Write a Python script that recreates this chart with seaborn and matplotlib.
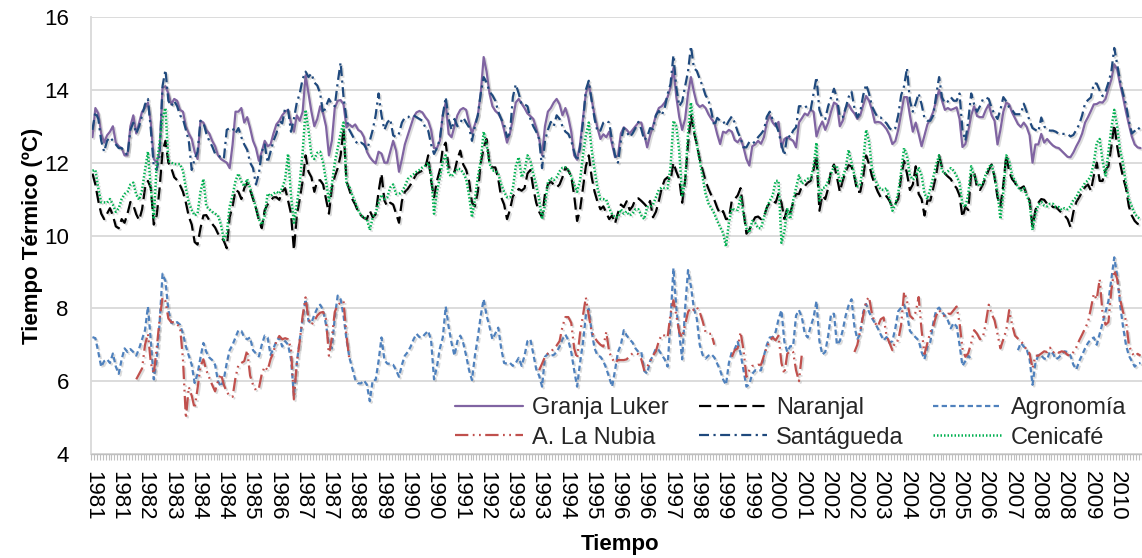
import numpy as np
import pandas as pd
import matplotlib
matplotlib.use("Agg")
import matplotlib.pyplot as plt
import matplotlib.patheffects as pe
from matplotlib.lines import Line2D
import seaborn as sns

nan = np.nan

# Monthly thermal time (ºC), January 1981 - December 2010, one row per year
granja_luker = [
    12.7, 13.5, 13.35, 12.8, 12.55, 12.75, 12.85, 13.0, 12.55, 12.45, 12.4, 12.2,     # 1981
    12.2, 13.0, 13.3, 12.8, 13.1, 13.4, 13.5, 13.65, 13.1, 12.1, 12.0, 12.3,          # 1982
    14.05, 14.1, 13.9, 13.6, 13.75, 13.7, 13.45, 13.4, 13.0, 12.8, 12.65, 12.3,       # 1983
    12.1, 13.15, 13.1, 12.9, 12.8, 12.6, 12.45, 12.2, 12.1, 12.05, 12.0, 11.85,       # 1984
    12.5, 13.4, 13.4, 13.5, 13.1, 13.25, 12.95, 12.6, 12.4, 12.05, 12.3, 12.6,        # 1985
    12.45, 12.5, 12.8, 13.05, 13.15, 13.3, 13.4, 13.45, 13.1, 12.85, 13.3, 13.15,     # 1986
    13.4, 14.4, 13.9, 13.4, 13.0, 13.2, 13.55, 13.35, 13.0, 12.2, 12.6, 13.5,         # 1987
    13.7, 13.72, 13.6, 12.97, 13.05, 12.98, 13.05, 12.9, 12.85, 12.7, 12.3, 12.15,    # 1988
    12.05, 11.98, 12.3, 12.25, 12.0, 12.0, 12.3, 12.6, 12.33, 11.75, 12.1, 12.5,      # 1989
    12.75, 13.0, 13.25, 13.38, 13.42, 13.38, 13.25, 13.15, 12.9, 12.4, 12.4, 12.6,    # 1990
    13.3, 13.65, 12.79, 12.7, 13.0, 13.3, 13.45, 13.5, 13.45, 13.1, 12.8, 13.05,      # 1991
    13.3, 13.9, 14.9, 14.5, 13.9, 13.55, 13.42, 13.35, 13.2, 12.9, 12.55, 12.8,       # 1992
    13.2, 13.65, 13.75, 13.62, 13.5, 13.35, 13.28, 13.2, 12.95, 12.65, 12.2, 13.0,    # 1993
    13.4, 13.5, 13.65, 13.75, 13.6, 13.3, 13.5, 13.24, 12.85, 12.2, 12.08, 12.5,      # 1994
    13.2, 13.9, 14.15, 13.72, 13.3, 12.95, 12.65, 12.78, 12.7, 12.85, 12.5, 12.15,    # 1995
    12.2, 12.8, 12.97, 12.9, 12.8, 12.9, 13.0, 13.1, 13.1, 12.78, 12.42, 12.75,       # 1996
    13.0, 13.3, 13.5, 13.55, 13.65, 13.8, 14.06, 14.6, 13.8, 13.25, 12.9, 13.2,       # 1997
    13.9, 14.35, 13.95, 13.62, 13.53, 13.58, 13.5, 13.33, 13.2, 13.1, 12.78, 12.51,   # 1998
    12.85, 12.82, 12.9, 12.85, 12.62, 12.56, 12.67, 12.42, 12.1, 11.92, 12.45, 12.5,  # 1999
    12.6, 12.52, 12.7, 13.1, 13.3, 13.1, 13.0, 13.12, 12.42, 12.65, 12.7, 12.65,      # 2000
    12.6, 12.42, 13.1, 13.22, 13.35, 13.3, 13.45, 13.4, 12.72, 12.97, 13.13, 12.9,    # 2001
    13.1, 13.4, 13.65, 13.6, 13.0, 13.15, 13.5, 13.6, 13.45, 13.35, 13.2, 13.3,       # 2002
    13.58, 13.83, 13.7, 13.45, 13.1, 13.12, 13.1, 13.02, 12.92, 12.76, 12.51, 12.59,  # 2003
    12.9, 13.35, 13.8, 13.8, 13.3, 12.85, 13.1, 12.79, 12.45, 12.75, 13.05, 13.2,     # 2004
    13.4, 13.7, 14.0, 13.7, 13.45, 13.5, 13.45, 13.48, 13.52, 13.2, 12.43, 12.51,     # 2005
    12.87, 13.3, 13.55, 13.28, 13.25, 13.25, 13.45, 13.6, 13.3, 13.15, 12.5, 12.9,    # 2006
    13.4, 13.65, 13.6, 13.38, 13.22, 13.06, 12.98, 13.1, 12.98, 12.75, 12.0, 12.5,    # 2007
    12.5, 12.79, 12.55, 12.65, 12.55, 12.47, 12.42, 12.4, 12.32, 12.24, 12.16, 12.15, # 2008
    12.28, 12.45, 12.6, 12.8, 13.1, 13.25, 13.42, 13.6, 13.61, 13.66, 13.65, 13.75,   # 2009
    14.03, 14.28, 14.7, 14.55, 14.15, 13.8, 13.4, 13.05, 12.72, 12.5, 12.42, 12.4,    # 2010
]

santagueda = [
    12.9, 13.4, 13.2, 12.6, 12.3, 12.6, 12.7, 12.6, 12.5, 12.4, 12.4, 12.3,           # 1981
    12.2, 12.9, 13.1, 12.8, 13.0, 13.3, 13.6, 13.75, 12.9, 11.9, 11.8, 12.2,          # 1982
    14.1, 14.55, 13.7, 13.55, 13.7, 13.55, 13.3, 13.2, 12.9, 12.6, 11.8, 12.1,        # 1983
    12.3, 13.15, 13.1, 12.8, 12.6, 12.45, 12.25, 12.2, 12.15, 12.1, 12.9, 12.95,      # 1984
    12.95, 12.8, 12.95, 12.7, 12.5, 12.35, 12.0, 11.85, 11.4, 11.7, 12.3, 12.5,       # 1985
    12.0, 12.3, 12.6, 12.8, 13.15, 13.08, 13.5, 13.45, 12.85, 13.2, 13.65, 13.9,      # 1986
    14.3, 14.5, 14.35, 14.45, 14.2, 14.12, 13.9, 13.35, 13.55, 13.75, 13.6, 13.55,    # 1987
    14.2, 14.75, 13.8, 13.2, 12.9, 12.75, 12.6, 12.5, 12.55, 12.5, 12.35, 12.6,       # 1988
    12.9, 13.3, 13.9, 13.3, 12.9, 13.1, 13.2, 12.75, 12.7, 12.8, 13.1, 13.24,         # 1989
    13.24, 13.3, 13.3, 13.25, 13.2, 13.15, 12.97, 12.88, 12.5, 12.24, 12.4, 12.65,    # 1990
    13.3, 13.8, 13.2, 12.9, 13.2, 13.0, 13.1, 13.24, 13.1, 12.97, 12.6, 13.0,         # 1991
    13.3, 13.9, 14.35, 14.2, 13.95, 13.85, 13.7, 13.4, 13.2, 13.05, 12.7, 12.8,       # 1992
    13.8, 14.15, 13.9, 13.6, 13.6, 13.55, 13.2, 13.0, 12.85, 12.65, 11.85, 12.6,      # 1993
    12.9, 13.12, 13.0, 13.3, 13.2, 13.0, 12.85, 12.79, 12.6, 12.3, 12.05, 12.4,       # 1994
    13.1, 14.0, 14.25, 13.7, 13.2, 12.85, 12.88, 13.1, 13.15, 13.1, 12.6, 12.2,       # 1995
    12.0, 12.6, 12.95, 12.85, 12.7, 12.8, 12.95, 13.12, 12.92, 12.62, 12.7, 12.95,    # 1996
    12.92, 13.3, 13.42, 13.3, 13.5, 13.88, 14.16, 14.95, 14.05, 13.55, 13.68, 14.1,   # 1997
    14.5, 15.2, 14.6, 14.52, 14.3, 14.1, 13.85, 13.72, 13.4, 13.0, 13.23, 13.15,      # 1998
    13.15, 13.0, 13.15, 13.27, 13.1, 12.85, 12.67, 12.42, 12.42, 12.57, 12.52, 12.58, # 1999
    12.7, 12.79, 12.9, 13.26, 13.4, 13.18, 13.08, 12.85, 12.5, 12.2, 12.77, 12.7,     # 2000
    12.88, 12.97, 13.55, 13.55, 13.58, 13.47, 13.45, 13.9, 14.35, 13.45, 13.22, 13.2, # 2001
    13.55, 13.79, 14.03, 13.78, 13.25, 13.25, 13.5, 13.8, 13.95, 13.5, 13.24, 13.4,   # 2002
    13.85, 14.15, 13.9, 13.55, 13.38, 13.24, 13.24, 13.15, 13.08, 12.95, 12.88, 12.95,# 2003
    13.3, 13.85, 14.1, 14.6, 13.7, 13.4, 13.63, 13.9, 13.6, 13.22, 13.15, 13.15,      # 2004
    13.3, 13.85, 14.35, 13.79, 13.63, 13.68, 13.8, 13.7, 13.7, 13.9, 12.9, 12.6,      # 2005
    13.15, 13.9, 13.6, 13.4, 13.55, 13.74, 13.79, 13.75, 13.5, 13.33, 13.2, 13.45,    # 2006
    13.8, 13.68, 13.52, 13.45, 13.33, 13.33, 13.33, 13.62, 13.4, 13.15, 12.95, 12.9,  # 2007
    12.85, 13.24, 13.0, 12.9, 12.88, 12.88, 12.85, 12.79, 12.79, 12.79, 12.79, 12.72, # 2008
    12.76, 12.9, 13.05, 13.3, 13.63, 13.72, 13.79, 14.18, 14.17, 13.98, 13.83, 13.95, # 2009
    14.2, 14.5, 15.15, 14.7, 14.25, 13.9, 13.6, 13.15, 12.8, 12.87, 12.97, 12.9,      # 2010
]

naranjal = [
    11.7, 11.4, 10.95, 10.6, 10.45, 10.6, 10.75, 10.55, 10.25, 10.2, 10.45, 10.35,    # 1981
    10.6, 10.92, 10.83, 10.58, 10.42, 10.72, 11.3, 11.5, 11.3, 10.3, 10.55, 11.3,     # 1982
    12.3, 12.6, 12.0, 11.85, 11.6, 11.52, 11.38, 11.2, 10.9, 10.52, 10.3, 9.82,       # 1983
    9.75, 10.2, 10.55, 10.56, 10.42, 10.32, 10.22, 10.05, 9.98, 9.85, 9.65, 10.5,     # 1984
    10.8, 11.25, 11.2, 11.0, 11.3, 11.45, 11.25, 11.0, 10.75, 10.42, 10.2, 10.7,      # 1985
    10.85, 10.95, 11.05, 11.05, 10.98, 11.2, 11.3, 10.96, 10.6, 9.6, 10.55, 11.0,     # 1986
    11.5, 12.2, 11.75, 11.6, 11.2, 11.5, 11.52, 11.4, 11.0, 10.6, 11.3, 11.62,        # 1987
    11.85, 12.2, 12.95, 11.5, 11.25, 11.0, 10.85, 10.65, 10.55, 10.48, 10.45, 10.68,  # 1988
    10.5, 10.58, 11.2, 11.7, 10.96, 10.8, 10.9, 10.85, 10.6, 10.35, 10.95, 11.2,      # 1989
    11.28, 11.4, 11.55, 11.69, 11.74, 11.78, 11.85, 12.2, 11.5, 11.05, 11.5, 11.8,    # 1990
    12.4, 12.55, 11.87, 11.87, 11.75, 12.1, 12.33, 11.95, 11.8, 11.5, 10.9, 10.8,     # 1991
    11.2, 11.98, 12.4, 12.65, 11.98, 11.87, 11.87, 11.55, 11.05, 10.85, 10.45, 10.7,  # 1992
    11.08, 11.16, 11.28, 11.23, 11.3, 11.7, 11.8, 11.3, 10.9, 10.65, 10.5, 11.14,     # 1993
    11.4, 11.48, 11.4, 11.32, 11.4, 11.6, 11.87, 11.78, 11.62, 11.1, 10.4, 10.7,      # 1994
    11.3, 11.9, 12.2, 11.6, 11.2, 10.92, 10.72, 10.8, 10.62, 10.45, 10.55, 10.33,     # 1995
    10.62, 10.85, 10.78, 10.94, 10.7, 10.8, 11.0, 11.02, 10.95, 10.87, 10.78, 10.95,  # 1996
    10.5, 10.65, 10.95, 11.3, 11.53, 11.6, 11.51, 12.0, 11.75, 11.55, 10.9, 11.5,     # 1997
    12.5, 13.3, 12.85, 12.5, 12.1, 11.8, 11.5, 11.28, 11.1, 10.98, 10.76, 10.59,      # 1998
    10.67, 10.45, 10.47, 10.96, 11.0, 11.1, 11.3, 10.68, 10.05, 10.16, 10.35, 10.5,   # 1999
    10.52, 10.45, 10.52, 10.77, 10.9, 10.95, 10.9, 11.15, 10.9, 10.45, 10.75, 10.62,  # 2000
    10.9, 11.14, 11.14, 11.35, 11.36, 11.45, 11.5, 11.8, 12.2, 10.68, 11.1, 11.0,     # 2001
    11.3, 11.8, 11.95, 11.6, 11.2, 11.51, 11.75, 11.93, 11.9, 11.6, 11.2, 11.2,       # 2002
    11.6, 12.2, 11.96, 11.63, 11.4, 11.2, 11.05, 11.03, 11.08, 10.95, 10.78, 10.87,   # 2003
    11.0, 11.6, 12.05, 11.7, 11.25, 11.4, 11.9, 11.14, 11.0, 10.55, 10.96, 10.96,     # 2004
    11.3, 11.65, 12.2, 11.87, 11.7, 11.62, 11.55, 11.4, 11.3, 11.1, 10.5, 10.78,      # 2005
    10.7, 11.7, 11.75, 11.3, 11.25, 11.4, 11.6, 11.8, 11.95, 11.6, 11.05, 10.8,       # 2006
    11.4, 12.2, 11.75, 11.55, 11.45, 11.28, 11.3, 11.35, 11.12, 10.96, 10.25, 10.7,   # 2007
    10.9, 11.0, 10.98, 10.87, 10.86, 10.78, 10.78, 10.7, 10.62, 10.55, 10.45, 10.23,  # 2008
    10.65, 10.92, 11.05, 11.2, 11.33, 11.4, 11.23, 11.65, 12.0, 11.5, 11.5, 11.8,     # 2009
    11.9, 12.45, 13.05, 12.45, 11.98, 11.6, 11.3, 10.8, 10.55, 10.4, 10.32, 10.3,     # 2010
]

cenicafe = [
    11.78, 11.8, 11.3, 10.91, 10.91, 10.9, 11.0, 10.85, 10.65, 10.75, 11.0, 11.14,    # 1981
    11.2, 11.4, 11.45, 11.12, 10.98, 11.25, 11.8, 12.3, 11.3, 10.45, 11.95, 12.55,    # 1982
    13.24, 13.5, 12.05, 12.0, 11.96, 11.96, 11.96, 11.78, 11.3, 10.9, 10.7, 10.55,    # 1983
    10.6, 11.2, 11.55, 10.8, 10.72, 10.65, 10.6, 10.55, 10.3, 9.88, 10.05, 10.8,      # 1984
    11.1, 11.5, 11.7, 11.48, 11.35, 11.55, 11.3, 11.05, 10.75, 10.45, 10.3, 10.55,    # 1985
    11.15, 11.08, 11.15, 11.2, 11.15, 11.3, 11.55, 12.24, 11.1, 10.35, 10.85, 11.45,  # 1986
    12.3, 13.45, 12.9, 12.2, 12.1, 12.27, 12.3, 12.0, 11.5, 10.95, 11.4, 12.0,        # 1987
    12.4, 12.8, 13.1, 11.4, 11.35, 11.1, 10.92, 10.7, 10.55, 10.5, 10.45, 10.15,      # 1988
    10.5, 10.62, 10.9, 11.12, 11.0, 11.05, 11.32, 11.4, 11.14, 11.14, 11.2, 11.35,    # 1989
    11.55, 11.62, 11.68, 11.75, 11.8, 11.87, 11.92, 12.0, 11.69, 10.6, 11.2, 11.6,    # 1990
    12.05, 12.2, 11.69, 11.62, 11.72, 11.84, 11.82, 11.72, 11.55, 11.1, 10.5, 11.0,   # 1991
    11.6, 12.05, 12.85, 12.5, 11.98, 11.78, 11.78, 11.7, 11.4, 11.2, 11.05, 11.05,    # 1992
    11.3, 11.9, 12.15, 11.6, 11.78, 12.2, 12.05, 11.69, 11.38, 11.0, 10.45, 10.85,    # 1993
    11.45, 11.58, 11.52, 11.6, 11.76, 11.86, 11.87, 11.8, 11.62, 11.4, 11.2, 11.51,   # 1994
    12.2, 12.75, 13.1, 12.35, 11.8, 11.3, 11.0, 11.0, 10.98, 10.75, 10.58, 10.5,      # 1995
    10.5, 10.72, 10.6, 10.66, 10.55, 10.6, 10.72, 10.72, 10.55, 10.45, 10.78, 10.78,  # 1996
    10.85, 11.05, 11.25, 11.32, 11.3, 11.3, 11.87, 13.15, 13.0, 12.3, 11.1, 11.5,     # 1997
    12.8, 13.65, 12.95, 12.5, 12.05, 11.6, 11.15, 10.88, 10.75, 10.6, 10.4, 10.23,    # 1998
    10.07, 9.7, 10.35, 10.75, 10.7, 10.7, 11.05, 10.59, 10.2, 10.08, 10.4, 10.34,     # 1999
    10.2, 10.2, 10.5, 10.78, 10.95, 11.1, 11.5, 11.5, 9.8, 10.1, 10.75, 10.45,        # 2000
    10.96, 11.3, 11.65, 11.42, 11.5, 11.56, 11.55, 11.9, 12.55, 10.96, 11.3, 11.32,   # 2001
    11.5, 11.7, 11.9, 11.9, 11.45, 11.6, 11.85, 12.35, 12.0, 11.65, 11.35, 11.4,      # 2002
    12.0, 12.9, 12.6, 11.85, 11.55, 11.38, 11.26, 11.25, 11.3, 11.02, 10.68, 10.86,   # 2003
    11.17, 11.75, 12.4, 12.2, 11.65, 11.53, 11.6, 11.87, 11.65, 11.15, 11.0, 11.3,    # 2004
    11.6, 11.95, 12.2, 11.78, 11.7, 11.76, 11.85, 11.78, 11.63, 11.45, 10.86, 10.78,  # 2005
    11.14, 11.9, 11.65, 11.45, 11.35, 11.45, 11.68, 11.88, 11.95, 11.6, 11.2, 10.45,  # 2006
    11.2, 12.2, 12.05, 11.65, 11.5, 11.32, 11.24, 11.3, 11.1, 10.9, 10.15, 10.6,      # 2007
    10.85, 10.92, 10.82, 10.8, 10.87, 10.87, 10.78, 10.78, 10.7, 10.75, 10.72, 10.8,  # 2008
    10.98, 11.05, 11.23, 11.3, 11.45, 11.51, 11.65, 12.0, 12.55, 12.65, 12.05, 11.62, # 2009
    12.3, 12.95, 13.45, 13.0, 12.35, 11.98, 11.42, 11.0, 10.8, 10.6, 10.5, 10.45,     # 2010
]

agronomia = [
    7.21, 7.18, 6.8, 6.39, 6.55, 6.6, 6.5, 6.76, 6.4, 6.2, 6.6, 6.9,                  # 1981
    6.8, 6.88, 6.8, 6.7, 6.9, 7.15, 7.4, 8.05, 7.1, 6.05, 6.6, 7.6,                   # 1982
    8.95, 8.75, 7.95, 7.6, 7.58, 7.62, 7.55, 7.3, 6.95, 6.7, 6.45, 5.95,              # 1983
    6.2, 6.65, 7.05, 6.8, 6.65, 6.58, 6.45, 6.0, 5.85, 6.05, 6.5, 6.85,               # 1984
    7.0, 7.2, 7.4, 7.38, 7.2, 7.15, 7.2, 6.85, 6.76, 6.68, 7.0, 7.25,                 # 1985
    7.2, 6.72, 6.9, 7.1, 7.2, 6.95, 7.1, 7.0, 6.6, 5.6, 6.5, 7.15,                    # 1986
    7.7, 8.25, 7.65, 7.6, 7.82, 8.0, 8.1, 7.95, 7.55, 7.0, 6.9, 7.75,                 # 1987
    8.35, 8.25, 7.8, 7.15, 6.65, 6.35, 6.05, 5.94, 5.94, 6.02, 5.9, 5.45,             # 1988
    6.03, 6.03, 6.55, 7.2, 6.58, 6.48, 6.48, 6.45, 6.3, 6.12, 6.45, 6.7,              # 1989
    6.8, 6.95, 7.15, 7.3, 7.21, 7.21, 7.3, 7.38, 7.12, 6.05, 6.4, 6.9,                # 1990
    7.2, 8.05, 7.49, 7.05, 6.7, 7.1, 7.25, 7.05, 6.7, 6.3, 6.03, 6.7,                 # 1991
    7.2, 7.8, 8.25, 7.8, 7.5, 7.15, 7.31, 7.47, 6.9, 6.5, 6.48, 6.5,                  # 1992
    6.42, 6.5, 6.64, 6.42, 6.7, 7.1, 7.15, 6.75, 6.33, 6.15, 5.85, 6.67,              # 1993
    6.75, 6.7, 6.72, 6.8, 6.95, 7.15, 7.28, 7.12, 6.8, 6.3, 5.85, 6.5,                # 1994
    7.05, 7.8, 7.99, 7.35, 6.9, 6.7, 6.67, 6.55, 6.35, 6.1, 5.85, 6.3,                # 1995
    6.8, 7.0, 7.4, 7.25, 7.15, 7.06, 6.9, 6.8, 6.8, 6.28, 6.21, 6.55,                 # 1996
    6.7, 6.9, 6.85, 6.72, 6.6, 6.4, 7.67, 9.1, 8.0, 7.3, 6.6, 8.0,                    # 1997
    9.05, 8.6, 8.0, 7.72, 7.0, 6.72, 6.62, 6.7, 6.74, 6.65, 6.48, 6.3,                # 1998
    6.05, 5.9, 6.5, 6.8, 6.88, 7.08, 6.76, 6.3, 5.85, 5.92, 6.2, 6.3,                 # 1999
    6.28, 6.3, 6.7, 7.0, 7.2, 7.21, 7.35, 7.7, 7.95, 7.08, 6.8, 6.96,                 # 2000
    6.96, 7.8, 7.95, 7.75, 7.3, 7.2, 7.5, 7.75, 8.2, 7.1, 6.73, 6.8,                  # 2001
    7.25, 7.85, 7.85, 7.0, 7.1, 7.4, 7.8, 8.08, 8.25, 7.5, 7.15, 7.3,                 # 2002
    7.9, 8.12, 7.9, 7.73, 7.6, 7.45, 7.28, 7.12, 7.21, 7.05, 7.1, 7.45,               # 2003
    7.92, 8.02, 8.1, 7.85, 7.38, 7.28, 7.2, 7.12, 6.8, 6.6, 6.95, 7.08,               # 2004
    7.6, 7.95, 8.02, 7.9, 7.8, 7.67, 7.45, 7.6, 7.5, 7.0, 6.42, 6.55,                 # 2005
    6.7, 6.6, nan, nan, nan, nan, nan, nan, nan, nan, nan, nan,                       # 2006
    nan, nan, nan, nan, nan, 6.85, 7.05, 6.95, 6.88, 6.6, 5.9, 6.5,                   # 2007
    6.72, 6.7, 6.62, 6.6, 6.82, 6.76, 6.6, 6.65, 6.74, 6.82, 6.8, 6.7,                # 2008
    6.45, 6.32, 6.55, 6.72, 6.9, 7.05, 7.15, 7.2, 7.0, 7.3, 7.6, 7.9,                 # 2009
    8.2, 8.8, 9.4, 8.9, 8.1, 7.5, 7.0, 6.7, 6.55, 6.4, 6.48, 6.5,                     # 2010
]

la_nubia = [
    nan, nan, nan, nan, nan, nan, nan, nan, nan, nan, nan, nan,                       # 1981
    nan, nan, nan, 6.05, 6.2, 6.35, 7.0, 7.3, 6.5, 6.2, 6.9, 7.7,                     # 1982
    8.3, 8.2, 7.72, 7.62, 7.62, 7.55, 7.5, 6.6, 4.98, 5.84, 5.6, 5.25,                # 1983
    5.8, 6.4, 6.6, 6.3, 6.1, 5.9, 5.72, 6.0, 6.2, 5.9, 5.7, 5.6,                      # 1984
    5.57, 6.1, 6.45, 6.5, 6.55, 6.85, 6.15, 5.9, 5.75, 5.8, 6.2, 6.4,                 # 1985
    6.3, 6.6, 6.8, 7.1, 7.24, 7.15, 7.18, 7.15, 6.9, 5.5, 6.5, 7.1,                   # 1986
    7.8, 8.3, 7.7, 7.55, 7.65, 7.8, 7.88, 7.9, 7.7, 6.7, 7.2, 7.9,                    # 1987
    8.1, 8.15, 8.2, 7.25, 6.6, nan, nan, nan, nan, nan, nan, nan,                     # 1988
    nan, nan, nan, nan, nan, nan, nan, nan, nan, nan, nan, nan,                       # 1989
    nan, nan, nan, nan, nan, nan, nan, nan, nan, nan, nan, nan,                       # 1990
    nan, nan, nan, nan, nan, nan, nan, nan, nan, nan, nan, nan,                       # 1991
    nan, nan, nan, nan, nan, nan, nan, nan, nan, nan, nan, nan,                       # 1992
    nan, nan, nan, nan, nan, nan, nan, nan, nan, 6.3, 6.48, 6.67,                     # 1993
    6.76, 6.8, 6.9, 6.98, 7.1, 7.5, 7.76, 7.76, 7.6, 6.9, 6.62, 7.3,                  # 1994
    7.8, 8.3, 7.8, 7.35, 7.2, 7.08, 7.0, 6.95, 7.35, 6.8, 6.62, 6.5,                  # 1995
    6.58, 6.58, 6.58, 6.6, 6.7, 6.76, 6.76, 6.74, 6.6, 6.3, 6.39, 6.55,               # 1996
    6.7, 6.82, 7.1, 7.28, 7.25, 7.2, 7.85, 8.22, 7.8, 7.35, 7.2, 7.55,                # 1997
    7.9, 8.02, 7.95, 8.03, 7.9, 7.65, 7.35, 7.3, 7.3, 7.0, nan, nan,                  # 1998
    nan, nan, nan, 6.67, 6.85, 6.9, 7.35, 6.85, 6.12, 6.3, 6.42, 6.42,                # 1999
    6.45, 6.45, 6.7, 6.94, 7.1, 7.2, 7.12, 7.25, 6.5, 6.2, 6.75, 6.83,                # 2000
    6.8, 6.3, 6.0, 6.75, nan, nan, nan, nan, nan, nan, nan, nan,                      # 2001
    nan, nan, nan, nan, nan, nan, nan, nan, nan, 6.8, 7.0, 7.4,                       # 2002
    7.8, 8.2, 8.31, 7.85, 7.6, 7.5, 7.7, 7.75, 7.25, 7.05, 6.85, 7.1,                 # 2003
    7.12, 7.55, 8.45, 8.2, 7.8, 7.72, 7.9, 8.31, 7.4, 6.75, 7.05, 7.35,               # 2004
    7.5, 7.8, 7.95, 7.85, 7.77, 7.85, 7.85, 7.95, 8.05, 7.6, 6.9, 6.67,               # 2005
    6.77, 7.05, 7.4, 7.3, 7.15, 7.2, 7.6, 8.1, 7.85, 7.67, 7.3, 6.9,                  # 2006
    7.15, 7.4, 7.95, 7.55, 7.25, 7.17, 7.1, 7.0, 6.85, 6.76, 6.35, 6.7,               # 2007
    6.7, 6.76, 6.82, 6.8, 6.92, 6.78, 6.84, 6.78, 6.82, 6.8, 6.72, 6.7,               # 2008
    6.8, 6.93, 7.12, 7.28, 7.45, 7.62, 8.0, 8.4, 8.25, 8.8, 7.85, 7.55,               # 2009
    7.62, 8.5, 9.05, 8.8, 8.25, 7.9, 7.67, 7.0, 6.78, 6.68, 6.75, 6.7,                # 2010
]

# Category-axis labels, one every nine months starting January 1981
tick_years = [1981, 1981, 1982, 1983, 1984, 1984, 1985, 1986, 1987, 1987,
              1988, 1989, 1990, 1990, 1991, 1992, 1993, 1993, 1994, 1995,
              1996, 1996, 1997, 1998, 1999, 1999, 2000, 2001, 2002, 2002,
              2003, 2004, 2005, 2005, 2006, 2007, 2008, 2008, 2009, 2010]
tick_step = 9

series = {
    "Granja Luker": granja_luker,
    "Naranjal": naranjal,
    "Agronomía": agronomia,
    "A. La Nubia": la_nubia,
    "Santágueda": santagueda,
    "Cenicafé": cenicafe,
}
order = list(series)
colors = {
    "Granja Luker": "#8064A2",
    "Naranjal": "#000000",
    "Agronomía": "#4F81BD",
    "A. La Nubia": "#C0504D",
    "Santágueda": "#1F497D",
    "Cenicafé": "#00B050",
}
dash_styles = {
    "Granja Luker": "",
    "Naranjal": (5.5, 2.5),
    "Agronomía": (2.4, 1.5),
    "A. La Nubia": (6, 2, 0.8, 2, 0.8, 2),
    "Santágueda": (4.5, 2, 1, 2),
    "Cenicafé": (0.6, 0.8),
}

# Long table; each unbroken run of months becomes its own unit so gaps stay open
rows = []
for name, vals in series.items():
    v = np.asarray(vals, dtype=float)
    assert v.size == 360, (name, v.size)
    run = np.cumsum(np.isnan(v))
    for month, (val, r) in enumerate(zip(v, run)):
        if not np.isnan(val):
            rows.append((name, month, val, f"{name}-{r}"))
df = pd.DataFrame(rows, columns=["station", "month", "value", "run"])

sns.set_theme(style="white")
plt.rcParams["font.family"] = ["Liberation Sans", "DejaVu Sans"]

W, H = 1142, 558
fig = plt.figure(figsize=(W / 100, H / 100), dpi=100)
ax = fig.add_axes([91 / W, 104 / H, 1 - 91 / W, 437 / H])

sns.lineplot(data=df, x="month", y="value", hue="station", style="station",
             units="run", estimator=None, hue_order=order, style_order=order,
             palette=colors, dashes=dash_styles, linewidth=1.6, legend=False,
             ax=ax)

shadow = [pe.SimpleLineShadow(offset=(1.2, -1.2), shadow_color="gray", alpha=0.28),
          pe.Normal()]
green = matplotlib.colors.to_rgba(colors["Cenicafé"])
for line in ax.lines:
    line.set_dash_capstyle("butt")
    if matplotlib.colors.to_rgba(line.get_color()) == green:
        line.set_linewidth(1.8)
    line.set_path_effects(shadow)

ax.set_xlim(-0.5, 358.2)
ax.set_ylim(4, 16)
ax.set_yticks(np.arange(4, 17, 2))
ax.set_axisbelow(True)
ax.grid(axis="y", color="#D9D9D9", linewidth=1.3)
ax.grid(axis="x", visible=False)

ax.set_xticks(np.arange(len(tick_years)) * tick_step)
ax.set_xticklabels([str(y) for y in tick_years], rotation=270)
ax.set_xticks(np.arange(-0.5, 360, 1), minor=True)
ax.tick_params(axis="x", which="minor", bottom=True, length=4, width=0.8,
               color="#BFBFBF", direction="out")
ax.tick_params(axis="x", which="major", length=0, pad=12, labelsize=16,
               labelcolor="black")
ax.tick_params(axis="y", length=0, pad=16, labelsize=16, labelcolor="black")

for side in ("top", "right"):
    ax.spines[side].set_visible(False)
ax.spines["bottom"].set_color("#BFBFBF")
ax.spines["bottom"].set_linewidth(1.0)
ax.spines["left"].set_color("#D9D9D9")
ax.spines["left"].set_linewidth(1.3)

ax.set_ylabel("Tiempo Térmico (ºC)", fontsize=16, fontweight="bold", color="black")
ax.yaxis.label.set_va("center")
ax.yaxis.set_label_coords(-0.0552, 0.5)
ax.set_xlabel("Tiempo", fontsize=16, fontweight="bold", color="black")
ax.xaxis.label.set_va("center")
ax.xaxis.set_label_coords(0.503, -0.206)

# Legend in three columns, filled column-wise
legend_order = ["Granja Luker", "A. La Nubia", "Naranjal", "Santágueda",
                "Agronomía", "Cenicafé"]
handles = []
for name in legend_order:
    h = Line2D([], [], color=colors[name],
               linewidth=1.8 if name == "Cenicafé" else 1.6)
    if dash_styles[name]:
        h.set_dashes(dash_styles[name])
    h.set_dash_capstyle("butt")
    handles.append(h)
ax.legend(handles, legend_order, ncol=3, loc="upper left",
          bbox_to_anchor=(455 / W, 1 - 397 / H), bbox_transform=fig.transFigure,
          frameon=False, fontsize=17, handlelength=2.9, handletextpad=0.38,
          columnspacing=1.25, labelspacing=0.32, borderpad=0, borderaxespad=0)

fig.savefig("out.png", dpi=100)
